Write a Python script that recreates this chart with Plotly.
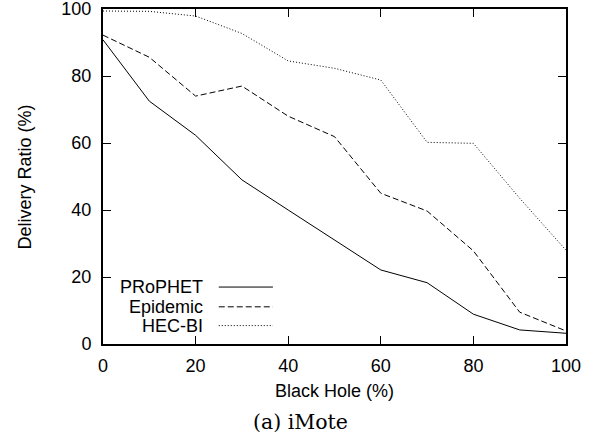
import plotly.graph_objects as go

black_hole = [0, 10, 20, 30, 40, 50, 60, 70, 80, 90, 100]
prophet = [90.8, 72.5, 62.3, 49.0, 40.0, 31.0, 22.1, 18.3, 8.9, 4.2, 3.2]
epidemic = [92.2, 85.6, 74.0, 77.0, 68.0, 61.9, 45.0, 39.7, 27.8, 9.5, 3.9]
hec_bi = [99.4, 99.3, 97.9, 92.7, 84.5, 82.3, 78.8, 60.2, 59.9, 43.5, 28.0]

series_names = ["PRoPHET", "Epidemic", "HEC-BI"]
series_values = [prophet, epidemic, hec_bi]
dashes = ["solid", "6px,3px", "1px,2px"]
x_ticks = [0, 20, 40, 60, 80, 100]
y_ticks = [0, 20, 40, 60, 80, 100]

FONT = "Liberation Sans, Arial, sans-serif"
FS = 18

fig = go.Figure()
for name, vals, d in zip(series_names, series_values, dashes):
    fig.add_trace(go.Scatter(x=black_hole, y=vals, mode="lines", name=name,
                             line=dict(color="black", width=1, dash=d),
                             showlegend=False))

# manual legend (text right-aligned, sample to its right), gnuplot style
leg_y = [17.0, 11.1, 5.5]
for name, d, yy in zip(series_names, dashes, leg_y):
    fig.add_annotation(x=22.0, y=yy, xref="x", yref="y", text=name,
                       showarrow=False, xanchor="right", yanchor="middle",
                       font=dict(family=FONT, size=FS, color="black"))
    fig.add_shape(type="line", x0=25.0, x1=36.7, y0=yy, y1=yy, xref="x", yref="y",
                  line=dict(color="black", width=1, dash=d))

axis_common = dict(showgrid=False, zeroline=False, showline=True, linecolor="black",
                   linewidth=2, mirror="allticks", ticks="inside", ticklen=8,
                   tickwidth=1, tickcolor="black", automargin=False,
                   ticklabeloverflow="allow",
                   tickfont=dict(family=FONT, size=FS, color="black"))

fig.update_xaxes(range=[0, 100], tickvals=x_ticks, ticklabelstandoff=4, **axis_common)
fig.update_yaxes(range=[0, 100], tickvals=y_ticks, ticklabelstandoff=6, **axis_common)

fig.add_annotation(x=0.5, y=-0.140, xref="paper", yref="paper", text="Black Hole (%)",
                   showarrow=False, xanchor="center", yanchor="middle",
                   font=dict(family=FONT, size=FS, color="black"))
fig.add_annotation(x=-0.1685, y=0.5, xref="paper", yref="paper", text="Delivery Ratio (%)",
                   showarrow=False, xanchor="center", yanchor="middle", textangle=-90,
                   font=dict(family=FONT, size=FS, color="black"))
fig.add_annotation(x=0.4276, y=-0.233, xref="paper", yref="paper", text="(a) iMote",
                   showarrow=False, xanchor="center", yanchor="middle",
                   font=dict(family="DejaVu Serif, serif", size=20.5, color="black"))

fig.update_layout(width=602, height=441, plot_bgcolor="white", paper_bgcolor="white",
                  margin=dict(l=103, r=36, t=9, b=97))

fig.write_html("out.html", config={"displayModeBar": False},
               post_script="document.body.style.margin='0';")
